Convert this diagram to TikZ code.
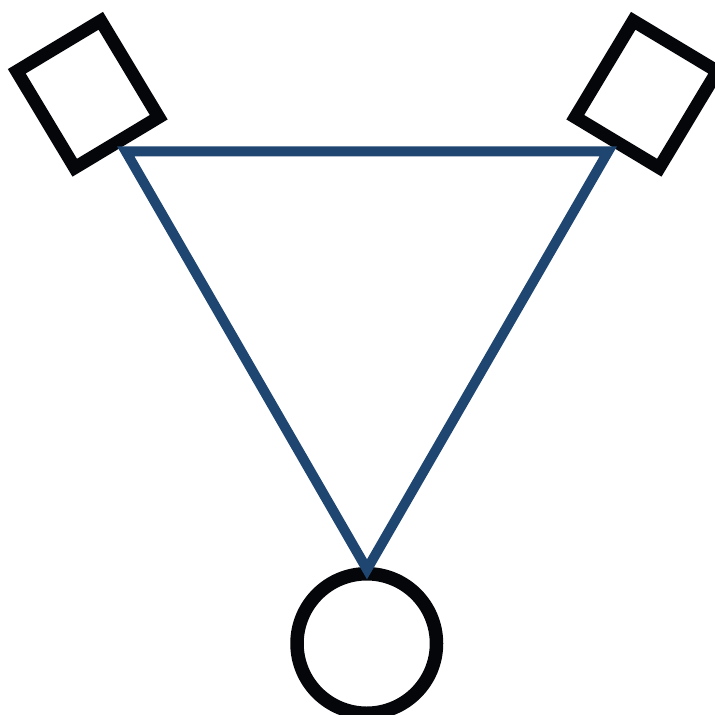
\documentclass[tikz,border=0pt]{standalone}
\begin{document}
\begin{tikzpicture}[x=1pt,y=-1pt,
  spk/.style={draw=spkblack,line width=13pt,rectangle,minimum width=98pt,minimum height=112.5pt,inner sep=0pt,outer sep=0pt},
  lis/.style={draw=spkblack,line width=13.5pt,circle,minimum size=139.5pt,inner sep=0pt,outer sep=0pt},
  tri/.style={draw=triblue,line width=10pt,line join=miter}]
\definecolor{spkblack}{HTML}{05060A}
\definecolor{triblue}{HTML}{1F4571}
\useasboundingbox (0,0) rectangle (715,715);
\node[spk,rotate=31] (sl) at (87.75,94.25) {};
\node[spk,rotate=-31] (sr) at (646.25,94.25) {};
\node[lis] (ls) at (366.75,643.5) {};
\coordinate (vl) at (125.7,151.3);
\coordinate (vr) at (608.3,151.3);
\coordinate (vb) at (367,569.3);
\draw[tri] (vl) -- (vr) -- (vb) -- cycle;
\end{tikzpicture}
\end{document}
